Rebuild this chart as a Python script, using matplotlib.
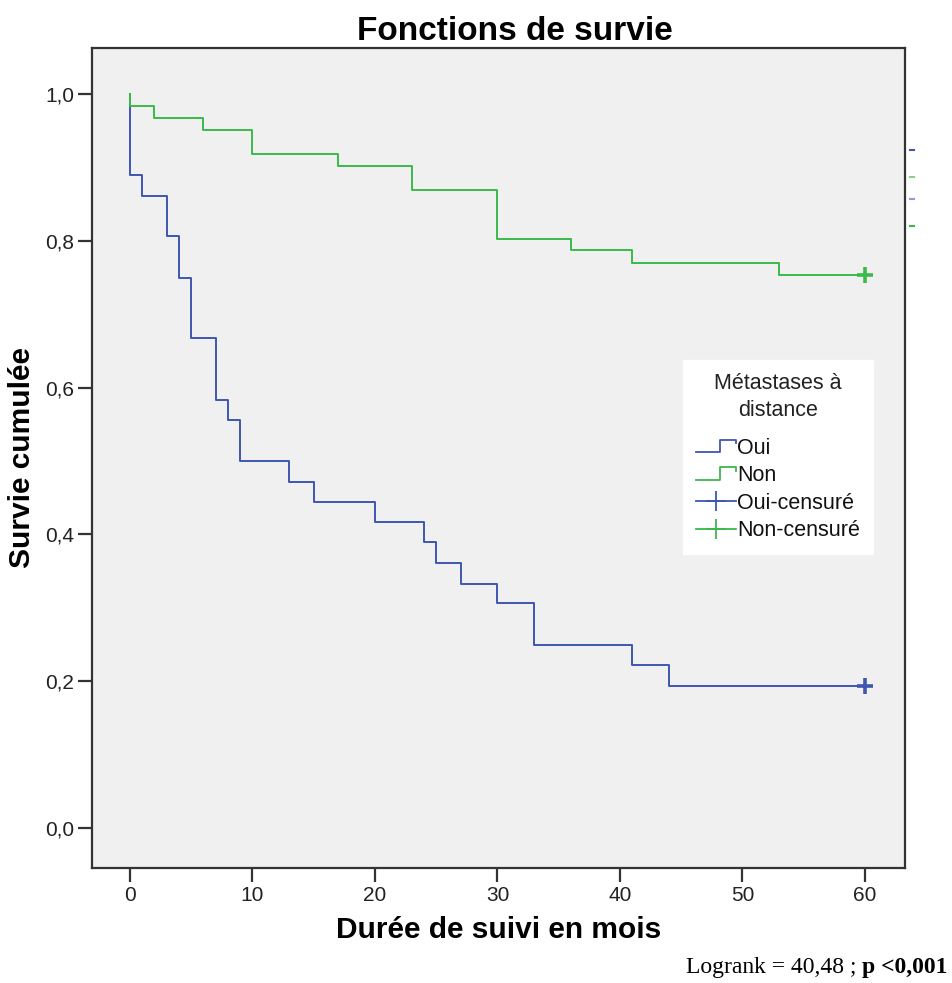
import numpy as np
import matplotlib.pyplot as plt
from matplotlib.legend_handler import HandlerBase
from matplotlib.lines import Line2D

plt.rcParams['font.family'] = ['Liberation Sans', 'DejaVu Sans']

# Kaplan-Meier steps: event times (months) and survival after each drop
oui_times = [0, 1, 3, 4, 5, 7, 8, 9, 13, 15, 20, 24, 25, 27, 30, 33, 41, 44]
oui_surv = [0.889, 0.861, 0.806, 0.750, 0.667, 0.583, 0.556, 0.500, 0.472,
            0.444, 0.417, 0.389, 0.361, 0.333, 0.306, 0.250, 0.222, 0.194]
non_times = [0, 2, 6, 10, 17, 23, 30, 36, 41, 53]
non_surv = [0.984, 0.967, 0.951, 0.918, 0.902, 0.869, 0.803, 0.787, 0.770, 0.754]
follow_up_end = 60

xticks = [0, 10, 20, 30, 40, 50, 60]
yticks = [0.0, 0.2, 0.4, 0.6, 0.8, 1.0]
ytick_labels = ['0,0', '0,2', '0,4', '0,6', '0,8', '1,0']

blue = '#3f56b0'
green = '#3bb94b'


class StepHandler(HandlerBase):
    # little step icon like the SPSS legend
    def create_artists(self, legend, orig_handle, xdescent, ydescent,
                       width, height, fontsize, trans):
        xs = np.array([0, 0.6, 0.6, 1.0, 1.0]) * width - xdescent
        ys = np.array([0.1, 0.1, 0.95, 0.95, 0.7]) * height - ydescent
        ln = Line2D(xs, ys, color=orig_handle.get_color(), lw=1.3, transform=trans)
        return [ln]


fig = plt.figure(figsize=(9.52, 9.83), dpi=100)
ax = fig.add_axes([92 / 952, 1 - 868 / 983, 813 / 952, 820 / 983])
ax.set_facecolor('#f0f0f0')

ox = [0] + oui_times + [follow_up_end]
oy = [1.0] + oui_surv + [oui_surv[-1]]
nx = [0] + non_times + [follow_up_end]
ny = [1.0] + non_surv + [non_surv[-1]]

l_oui, = ax.step(ox, oy, where='post', color=blue, lw=1.4)
l_non, = ax.step(nx, ny, where='post', color=green, lw=1.4)
ax.plot([follow_up_end], [oui_surv[-1]], marker='+', color=blue, ms=11, mew=2.6)
ax.plot([follow_up_end], [non_surv[-1]], marker='+', color=green, ms=11, mew=2.6)

ax.set_xlim(-3.1, 63.27)
ax.set_ylim(-0.0545, 1.0627)
ax.set_xticks(xticks)
ax.set_yticks(yticks)
ax.set_yticklabels(ytick_labels)
ax.tick_params(length=10, width=1.6, labelsize=15, color='#333333',
               labelcolor='#222222', pad=3)
for s in ax.spines.values():
    s.set_color('#333333')
    s.set_linewidth(1.6)

ax.set_xlabel('Durée de suivi en mois', fontsize=21.5, fontweight='bold', labelpad=8)
ax.set_ylabel('Survie cumulée', fontsize=21.5, fontweight='bold', labelpad=6)
fig.text(515 / 952, 1 - 32 / 983, 'Fonctions de survie', fontsize=24,
         fontweight='bold', ha='center', va='center')

h_oui_c = Line2D([], [], color=blue, lw=1.3, marker='+', ms=14, mew=1.3)
h_non_c = Line2D([], [], color=green, lw=1.3, marker='+', ms=14, mew=1.3)
leg = ax.legend([l_oui, l_non, h_oui_c, h_non_c],
                ['Oui', 'Non', 'Oui-censuré', 'Non-censuré'],
                title='Métastases à\ndistance',
                handler_map={l_oui: StepHandler(), l_non: StepHandler()},
                loc='upper left', bbox_to_anchor=(683 / 952, 1 - 360 / 983),
                bbox_transform=fig.transFigure, borderaxespad=0,
                fontsize=15.5, title_fontsize=15.5, frameon=True,
                fancybox=False, edgecolor='white', facecolor='white',
                framealpha=1, handlelength=1.85, handletextpad=0.05,
                labelspacing=0.3, borderpad=0.6)
leg.get_title().set_multialignment('center')
leg.get_title().set_linespacing(1.4)
leg.get_title().set_color('#222222')
leg._legend_box.sep = 12
for t in leg.get_texts():
    t.set_color('#111111')

# clipped legend swatches to the right of the frame
for yy, c in [(150, blue), (177, '#7fd38a'), (199, '#8d9ad3'), (226, green)]:
    fig.add_artist(Line2D([910 / 952, 914 / 952], [1 - yy / 983] * 2, color=c, lw=1.5))

p_txt = fig.text(948 / 952, 1 - 968 / 983, 'p <0,001', fontsize=17,
                 fontweight='bold', family='Liberation Serif', ha='right', va='center')
ax.annotate('Logrank = 40,48 ; ', xy=(0, 0.5), xycoords=p_txt, fontsize=17,
            family='Liberation Serif', ha='right', va='center',
            annotation_clip=False)

fig.savefig('out.png', dpi=100)
